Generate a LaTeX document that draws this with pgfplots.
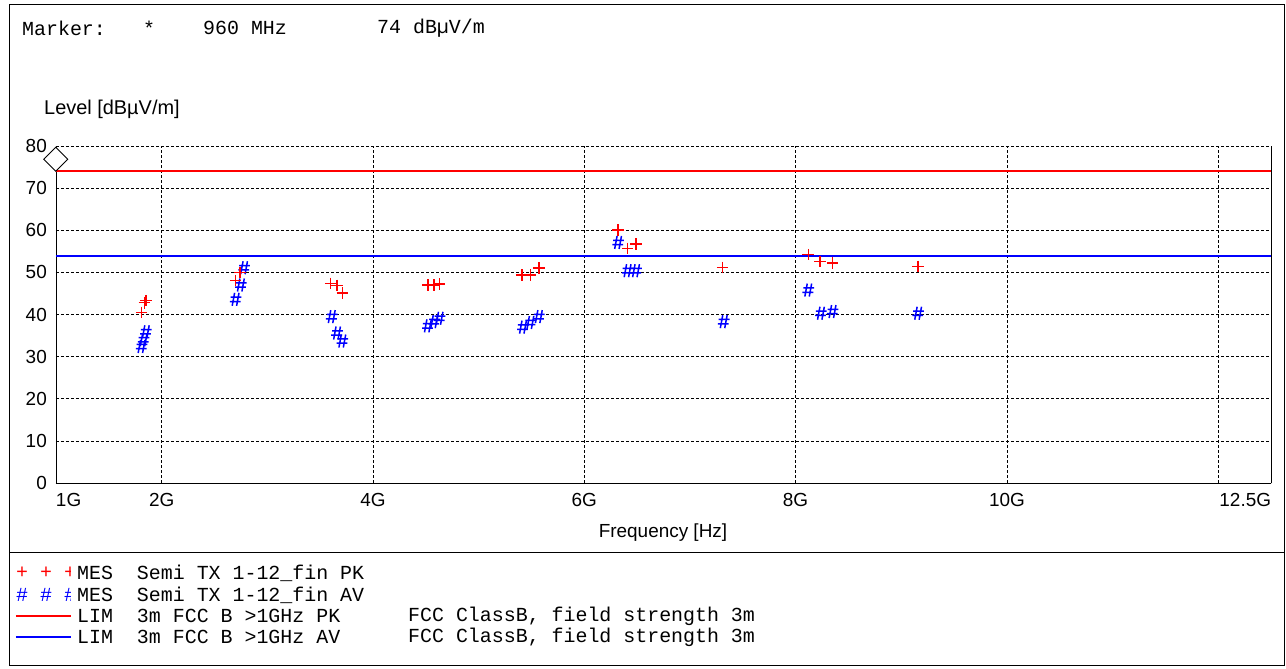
\documentclass[border=0pt]{standalone}
\usepackage{pgfplots}
\pgfplotsset{compat=1.18}
\usepackage{fontspec}
\setmainfont{Liberation Sans}
\newfontfamily\mono{Liberation Mono}

% slanted hash mark for the average detector
\pgfdeclareplotmark{hash}{%
  \pgfpathmoveto{\pgfqpoint{-3.4bp}{-6.5bp}}\pgfpathlineto{\pgfqpoint{-1.0bp}{6.5bp}}%
  \pgfpathmoveto{\pgfqpoint{1.0bp}{-6.5bp}}\pgfpathlineto{\pgfqpoint{3.4bp}{6.5bp}}%
  \pgfpathmoveto{\pgfqpoint{-5.0bp}{2.2bp}}\pgfpathlineto{\pgfqpoint{5.8bp}{2.2bp}}%
  \pgfpathmoveto{\pgfqpoint{-5.8bp}{-2.2bp}}\pgfpathlineto{\pgfqpoint{5.0bp}{-2.2bp}}%
  \pgfusepathqstroke}

% Peak and average measurements (frequency in GHz, level in dBuV/m)
\pgfplotstableread{
f     lvl
1.81  40.5
1.836 42.8
1.85  43.3
2.70  48.1
2.74  50.0
3.60  47.4
3.66  46.9
3.71  45.1
4.52  47.0
4.58  47.0
4.63  47.2
5.41  49.4
5.49  49.4
5.57  51.0
6.32  60.1
6.41  55.7
6.49  56.7
7.31  51.2
8.12  54.2
8.23  52.6
8.35  52.2
9.16  51.4
}\peak
\pgfplotstableread{
f     lvl
1.81  32.4
1.83  34.0
1.85  35.9
2.70  43.6
2.75  47.0
2.78  51.1
3.61  39.5
3.66  35.6
3.71  33.7
4.52  37.3
4.58  38.3
4.63  39.1
5.42  37.0
5.49  38.1
5.57  39.5
6.32  57.1
6.41  50.4
6.49  50.4
7.32  38.3
8.12  45.8
8.24  40.3
8.35  40.7
9.16  40.3
}\average

\begin{document}
\begin{tikzpicture}[x=1bp,y=1bp]
\useasboundingbox (-56,-186) rectangle (1230,483);
\begin{axis}[
  at={(0,0)}, anchor=south west, scale only axis,
  width=1215bp, height=337bp,
  xmin=1, xmax=12.5, ymin=0, ymax=80,
  axis lines*=left,
  axis line style={black, line width=0.8bp, -},
  xtick={2,4,6,8,10,12},
  xticklabels={2G,4G,6G,8G,10G,},
  extra x ticks={1,12.5},
  extra x tick labels={\makebox[0pt][l]{1G},\makebox[0pt][r]{12.5G}},
  extra x tick style={xmajorgrids=false},
  ytick={0,10,...,80},
  xmajorgrids, ymajorgrids,
  major grid style={black, line width=0.7bp, dash pattern=on 3bp off 2bp},
  major tick length=0pt,
  tick label style={font=\fontsize{19}{22}\selectfont, inner sep=0pt},
  xticklabel style={anchor=north, yshift=-10bp},
  yticklabel style={anchor=east, xshift=-9bp},
  /pgf/number format/assume math mode=true,
  clip mode=individual,
]
\draw[black, line width=0.8bp] (rel axis cs:1,0) -- (rel axis cs:1,1);
% limit lines
\addplot[color=blue, line width=2bp, mark=none] coordinates {(1,54) (12.5,54)};
\addplot[color=red, line width=2bp, mark=none] coordinates {(1,74) (12.5,74)};
% average detector
\addplot[color=blue, only marks, mark=hash, mark options={line width=1.5bp}]
  table[x=f, y=lvl] {\average};
% peak detector
\addplot[color=red, only marks, mark=+, mark size=5.8bp, mark options={line width=1.5bp}]
  table[x=f, y=lvl] {\peak};
% marker at 960 MHz, 74 dBuV/m
\addplot[color=black, only marks, mark=square*, mark size=8.5bp, clip=false,
  mark options={fill=white, line width=0.8bp, xshift=4bp, yshift=12bp, rotate=45}]
  coordinates {(0.96,74)};
\end{axis}

% page frame and separator
\draw[black, line width=1bp] (-46,478) rectangle (1228,-183);
\draw[black, line width=1bp] (-46,-70) -- (1228,-70);

% marker readout
\begin{scope}[every node/.style={anchor=west, inner sep=0pt, font=\mono\fontsize{20}{22}\selectfont}]
\node at (-34,455) {Marker:};
\node at (87,455) {*};
\node at (147,455) {960 MHz};
\node at (321,455) {74 dBµV/m};
\end{scope}

% axis titles
\node[anchor=west, inner sep=0pt, font=\fontsize{20}{23}\selectfont] at (-12,374) {Level [dBµV/m]};
\node[inner sep=0pt, font=\fontsize{19}{22}\selectfont] at (607,-50) {Frequency [Hz]};

% legend
\begin{scope}[every node/.style={anchor=west, inner sep=0pt, font=\mono\fontsize{20}{22}\selectfont}]
\node[text=red] at (-40,-90) {+ + +};
\node[text=blue] at (-40,-112) {\# \# \#};
\fill[white] (15,-80) rectangle (21,-122);
\draw[red, line width=2bp] (-40,-133) -- (15,-133);
\draw[blue, line width=2bp] (-40,-154) -- (15,-154);
\node at (21,-90) {MES\ \ Semi TX 1-12\_fin PK};
\node at (21,-112) {MES\ \ Semi TX 1-12\_fin AV};
\node at (21,-133) {LIM\ \ 3m FCC B >1GHz PK};
\node at (21,-154) {LIM\ \ 3m FCC B >1GHz AV};
\node at (352,-133) {FCC ClassB, field strength 3m};
\node at (352,-154) {FCC ClassB, field strength 3m};
\end{scope}
\end{tikzpicture}
\end{document}
